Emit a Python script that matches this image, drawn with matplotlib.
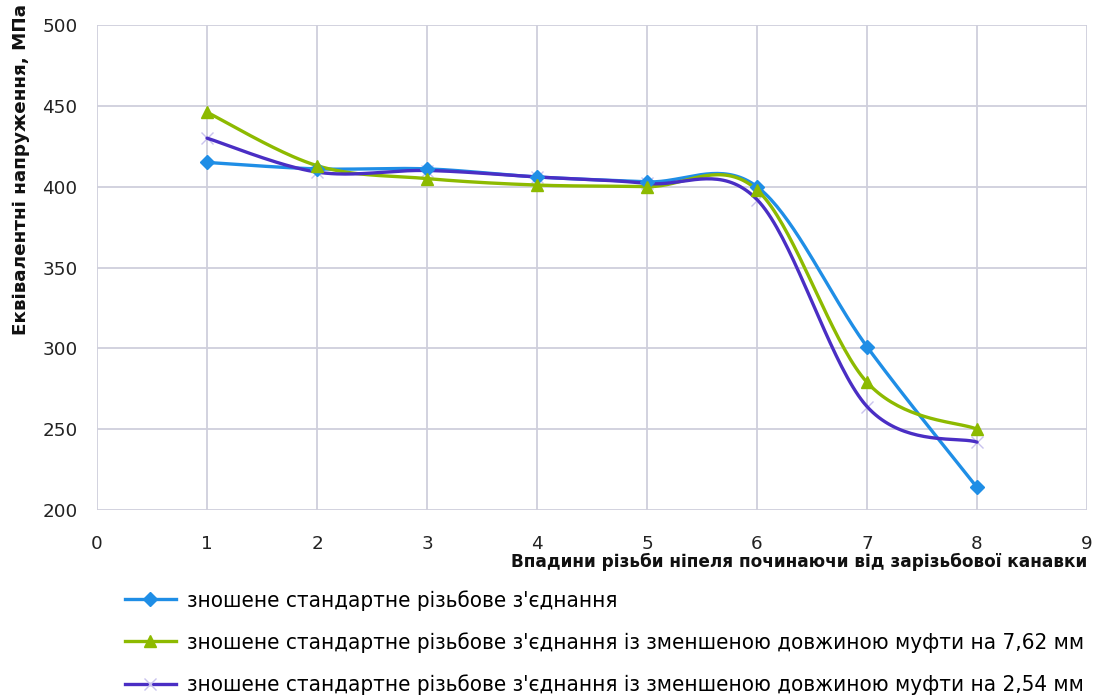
import numpy as np
import matplotlib
matplotlib.use("Agg")
import matplotlib.pyplot as plt
from matplotlib.lines import Line2D

# Thread root positions counted from the thread undercut
positions = [1, 2, 3, 4, 5, 6, 7, 8]

# Equivalent stress, MPa
stress_standard = [415, 411, 411, 406, 403, 400, 301, 214]
stress_762 = [446, 413, 405, 401, 400, 398, 279, 250]
stress_254 = [430, 409, 410, 406, 402, 392, 264, 242]

labels = [
    "зношене стандартне різьбове з'єднання",
    "зношене стандартне різьбове з'єднання із зменшеною довжиною муфти на 7,62 мм",
    "зношене стандартне різьбове з'єднання із зменшеною довжиною муфти на 2,54 мм",
]
x_ticks = [0, 1, 2, 3, 4, 5, 6, 7, 8, 9]
y_ticks = [200, 250, 300, 350, 400, 450, 500]

colors = ["#1f8ee6", "#8dba00", "#4a2ec4"]
markers = ["D", "^", "x"]

plt.rcParams["font.family"] = ["DejaVu Sans"]


def smooth(xs, ys, n=40):
    """Cubic Bezier smoothing through every point (spreadsheet-style)."""
    p = np.column_stack([xs, ys]).astype(float)
    out = [p[0]]
    t = np.linspace(0, 1, n)[1:, None]
    for i in range(len(p) - 1):
        p0 = p[i - 1] if i > 0 else p[i]
        p1, p2 = p[i], p[i + 1]
        p3 = p[i + 2] if i + 2 < len(p) else p[i + 1]
        c1 = p1 + (p2 - p0) / 6.0
        c2 = p2 - (p3 - p1) / 6.0
        seg = ((1 - t) ** 3) * p1 + 3 * ((1 - t) ** 2) * t * c1 \
            + 3 * (1 - t) * t ** 2 * c2 + t ** 3 * p2
        out.extend(seg)
    out = np.array(out)
    return out[:, 0], out[:, 1]


fig = plt.figure(figsize=(10.94, 6.98), dpi=100)
ax = fig.add_axes([0.0887, 0.2693, 0.9049, 0.6949])

series = [stress_standard, stress_762, stress_254]
for vals, c, m in zip(series, colors, markers):
    sx, sy = smooth(positions, vals)
    ax.plot(sx, sy, color=c, lw=2.4, solid_capstyle="round", zorder=3)
    if m == "x":
        ax.plot(positions, vals, ls="none", marker=m, ms=9, mew=1.0,
                color="#c9c2ee", zorder=2)
    else:
        ax.plot(positions, vals, ls="none", marker=m, ms=9 if m == "^" else 7.5,
                color=c, zorder=4)

ax.set_xlim(0, 9)
ax.set_ylim(200, 500)
ax.set_xticks(x_ticks)
ax.set_yticks(y_ticks)
ax.grid(True, color="#cfcfdc", lw=1.3)
ax.set_axisbelow(True)
for s in ax.spines.values():
    s.set_visible(False)
ax.tick_params(length=0, labelsize=13.2, colors="#222222")
ax.tick_params(axis="x", pad=18)
ax.tick_params(axis="y", pad=14)

fig.text(0.994, 0.1877, "Впадини різьби ніпеля починаючи від зарізьбової канавки",
         ha="right", va="baseline", fontsize=12.2, fontweight="bold", color="#111111")
fig.text(0.019, 0.757, "Еквівалентні напруження, МПа", rotation=90,
         ha="center", va="center", fontsize=13.2, fontweight="bold", color="#111111")

handles = []
for c, m in zip(colors, markers):
    if m == "x":
        h = Line2D([], [], color=c, lw=2.4, marker=m, ms=9, mec="#c9c2ee", mew=1.0)
    else:
        h = Line2D([], [], color=c, lw=2.4, marker=m, ms=9 if m == "^" else 7.5)
    handles.append(h)
fig.legend(handles, labels, loc="upper left", bbox_to_anchor=(0.114, 0.155),
           frameon=False, prop={"size": 16, "stretch": "condensed"},
           handlelength=2.3, handletextpad=0.5,
           labelspacing=0.98, borderpad=0, borderaxespad=0)

fig.savefig("out.png", dpi=100, facecolor="white")
